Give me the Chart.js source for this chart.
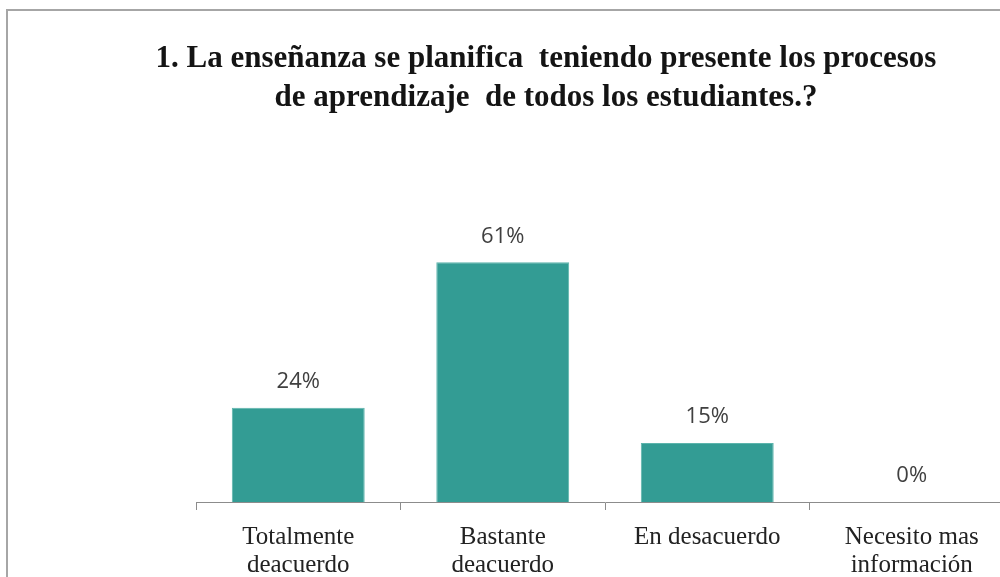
<!DOCTYPE html>
<html>
<head>
<meta charset="utf-8">
<script src="https://cdn.jsdelivr.net/npm/chart.js@4"></script>
<style>
  body { margin: 0; overflow: hidden; background: #fff; }
  #frame { position: absolute; left: 6px; top: 9px; width: 1200px; height: 700px; border: 2px solid #a6a6a6; }
  #chart { position: absolute; left: 0; top: 0; }
</style>
</head>
<body>
<div id="frame"></div>
<canvas id="chart" width="1092" height="577"></canvas>
<script>
const categories = [
  ['Totalmente', 'deacuerdo'],
  ['Bastante', 'deacuerdo'],
  ['En desacuerdo'],
  ['Necesito mas', 'información']
];
const percentages = [0.24, 0.61, 0.15, 0];
const titleLines = [
  '1. La enseñanza se planifica  teniendo presente los procesos',
  'de aprendizaje  de todos los estudiantes.?'
];

const barColor = 'rgb(51, 156, 148)';
const serif = '"Liberation Serif", "Times New Roman", serif';

// chart title, centred over the whole chart box (not the plot area)
const chartTitle = {
  id: 'chartTitle',
  afterDraw(chart) {
    const ctx = chart.ctx;
    ctx.save();
    ctx.font = 'bold 31px ' + serif;
    ctx.fillStyle = '#141414';
    ctx.textAlign = 'center';
    ctx.textBaseline = 'middle';
    titleLines.forEach((line, i) => ctx.fillText(line, 546, 59 + i * 39));
    ctx.restore();
  }
};

// value labels above each bar
const valueLabels = {
  id: 'valueLabels',
  afterDatasetsDraw(chart) {
    const ctx = chart.ctx;
    const meta = chart.getDatasetMeta(0);
    ctx.save();
    ctx.font = '22px "Open Sans"';
    ctx.fillStyle = '#404040';
    ctx.textAlign = 'center';
    ctx.textBaseline = 'middle';
    meta.data.forEach((bar, i) => {
      ctx.fillText(Math.round(percentages[i] * 100) + '%', bar.x, bar.y - 26);
    });
    ctx.restore();
  }
};

new Chart(document.getElementById('chart'), {
  type: 'bar',
  data: {
    labels: categories,
    datasets: [{
      data: percentages,
      backgroundColor: barColor,
      borderColor: 'rgb(92, 180, 172)',
      borderWidth: 1,
      categoryPercentage: 0.65,
      barPercentage: 1
    }]
  },
  options: {
    responsive: false,
    animation: false,
    layout: { padding: { left: 196, right: 78, top: 227, bottom: 0 } },
    plugins: {
      legend: { display: false },
      tooltip: { enabled: false },
      title: { display: false }
    },
    scales: {
      x: {
        grid: { display: true, drawOnChartArea: false, tickLength: 8, color: '#8c8c8c', offset: true },
        border: { display: true, color: '#8c8c8c', width: 1 },
        ticks: {
          color: '#222222',
          padding: 13,
          maxRotation: 0,
          autoSkip: false,
          font: { family: serif, size: 25, lineHeight: '28px' }
        },
        afterFit(scale) { scale.height = 75; }
      },
      y: {
        display: false,
        min: 0,
        max: 0.7
      }
    }
  },
  plugins: [valueLabels, chartTitle]
});
</script>
</body>
</html>
